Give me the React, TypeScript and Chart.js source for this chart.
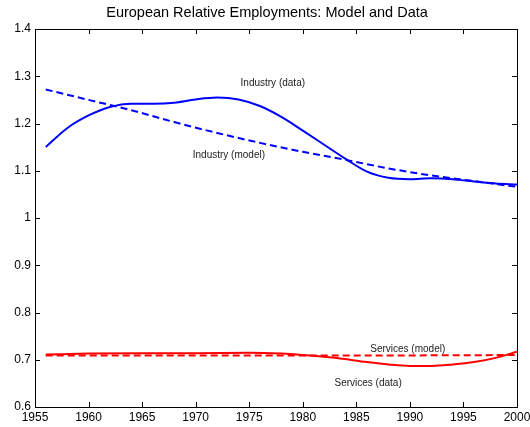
import React, { useEffect, useRef } from "react";
import { Chart, registerables } from "chart.js";

Chart.register(...registerables);

const TITLE = "European Relative Employments: Model and Data";

const industryDataYears = [1956, 1958, 1960, 1962, 1964, 1966, 1968, 1970, 1972, 1974, 1976, 1978, 1980, 1982, 1984, 1986, 1988, 1990, 1992, 1994, 1996, 1998, 2000];
const industryDataValues = [1.150, 1.190, 1.217, 1.235, 1.242, 1.242, 1.244, 1.251, 1.255, 1.251, 1.237, 1.214, 1.185, 1.155, 1.125, 1.098, 1.085, 1.082, 1.084, 1.082, 1.077, 1.073, 1.071];

const industryModelYears = [1956, 1960, 1964, 1968, 1972, 1976, 1980, 1984, 1988, 1992, 1996, 2000];
const industryModelValues = [1.272, 1.250, 1.228, 1.203, 1.180, 1.159, 1.140, 1.123, 1.105, 1.090, 1.078, 1.066];

const servicesDataYears = [1956, 1960, 1965, 1970, 1975, 1978, 1980, 1983, 1986, 1988, 1990, 1992, 1994, 1996, 1998, 2000];
const servicesDataValues = [0.711, 0.713, 0.714, 0.714, 0.715, 0.713, 0.710, 0.704, 0.695, 0.690, 0.687, 0.687, 0.690, 0.695, 0.704, 0.717];

const servicesModelYears = [1956, 1970, 1985, 2000];
const servicesModelValues = [0.709, 0.709, 0.709, 0.710];

const annotationTexts = ["Industry (data)", "Industry (model)", "Services (model)", "Services (data)"];
const annotationYears = [1977.2, 1973.1, 1989.8, 1986.1];
const annotationValues = [1.286, 1.133, 0.722, 0.651];

const xTickMin = 1955;
const xTickMax = 2000;
const xTickStep = 5;
const yTickMin = 0.6;
const yTickMax = 1.4;
const yTickStep = 0.1;

const FONT = "'Liberation Sans', Arial, Helvetica, sans-serif";

function toPoints(xs: number[], ys: number[]) {
  return xs.map((x, i) => ({ x, y: ys[i] }));
}

const framePlugin = {
  id: "framePlugin",
  afterDraw(chart: any) {
    const { ctx, chartArea, scales } = chart;
    const { left, right, top, bottom } = chartArea;
    ctx.save();
    ctx.strokeStyle = "#000";
    ctx.lineWidth = 1;
    ctx.strokeRect(Math.round(left) + 0.5, Math.round(top) + 0.5, Math.round(right - left), Math.round(bottom - top));
    const tl = 5;
    ctx.beginPath();
    scales.x.ticks.forEach((t: any) => {
      const px = Math.round(scales.x.getPixelForValue(t.value)) + 0.5;
      ctx.moveTo(px, bottom);
      ctx.lineTo(px, bottom - tl);
      ctx.moveTo(px, top);
      ctx.lineTo(px, top + tl);
    });
    scales.y.ticks.forEach((t: any) => {
      const py = Math.round(scales.y.getPixelForValue(t.value)) + 0.5;
      ctx.moveTo(left, py);
      ctx.lineTo(left + tl, py);
      ctx.moveTo(right, py);
      ctx.lineTo(right - tl, py);
    });
    ctx.stroke();

    // annotations
    ctx.fillStyle = "#222";
    ctx.font = `10px ${FONT}`;
    ctx.textAlign = "center";
    ctx.textBaseline = "middle";
    annotationTexts.forEach((txt, i) => {
      const px = scales.x.getPixelForValue(annotationYears[i]);
      const py = scales.y.getPixelForValue(annotationValues[i]);
      ctx.fillText(txt, px, py);
    });

    // title
    ctx.fillStyle = "#000";
    ctx.font = `14.5px ${FONT}`;
    ctx.fillText(TITLE, chart.width / 2 + 2, 13);
    ctx.restore();
  },
};

export default function App() {
  const canvasRef = useRef<HTMLCanvasElement | null>(null);

  useEffect(() => {
    if (!canvasRef.current) return;
    const chart = new Chart(canvasRef.current, {
      type: "line",
      data: {
        datasets: [
          {
            data: toPoints(industryDataYears, industryDataValues),
            borderColor: "#0000ff",
            borderWidth: 2,
            pointRadius: 0,
            fill: false,
            cubicInterpolationMode: "monotone",
          },
          {
            data: toPoints(industryModelYears, industryModelValues),
            borderColor: "#0000ff",
            borderWidth: 2,
            borderDash: [7, 4],
            pointRadius: 0,
            fill: false,
            cubicInterpolationMode: "monotone",
          },
          {
            data: toPoints(servicesDataYears, servicesDataValues),
            borderColor: "#ff0000",
            borderWidth: 2,
            pointRadius: 0,
            fill: false,
            cubicInterpolationMode: "monotone",
          },
          {
            data: toPoints(servicesModelYears, servicesModelValues),
            borderColor: "#ff0000",
            borderWidth: 2,
            borderDash: [7, 4],
            pointRadius: 0,
            fill: false,
            cubicInterpolationMode: "monotone",
          },
        ],
      },
      options: {
        responsive: false,
        animation: false,
        devicePixelRatio: 1,
        layout: { padding: { top: 29, right: 13, left: 0, bottom: 0 } },
        plugins: {
          legend: { display: false },
          tooltip: { enabled: false },
          title: { display: false },
        },
        scales: {
          x: {
            type: "linear",
            min: xTickMin,
            max: xTickMax,
            grid: { display: false, drawTicks: false },
            border: { display: false },
            ticks: {
              stepSize: xTickStep,
              color: "#000",
              font: { size: 12, family: FONT },
              padding: 3,
              maxRotation: 0,
              autoSkip: false,
              callback: (v: any) => String(v),
            },
            afterFit: (s: any) => {
              s.height = 20;
              s.paddingLeft = 0;
              s.paddingRight = 0;
            },
          },
          y: {
            min: yTickMin,
            max: yTickMax,
            grid: { display: false, drawTicks: false },
            border: { display: false },
            ticks: {
              stepSize: yTickStep,
              color: "#000",
              font: { size: 12, family: FONT },
              padding: 4,
              autoSkip: false,
              callback: (v: any) => String(Number(Number(v).toFixed(1))),
            },
            afterFit: (s: any) => {
              s.width = 35;
              s.paddingTop = 0;
              s.paddingBottom = 0;
            },
          },
        },
      },
      plugins: [framePlugin],
    } as any);
    return () => chart.destroy();
  }, []);

  return (
    <div style={{ position: "absolute", left: 0, top: 0, width: 530, height: 427, background: "#fff" }}>
      <canvas ref={canvasRef} width={530} height={427} style={{ width: 530, height: 427 }} />
    </div>
  );
}
